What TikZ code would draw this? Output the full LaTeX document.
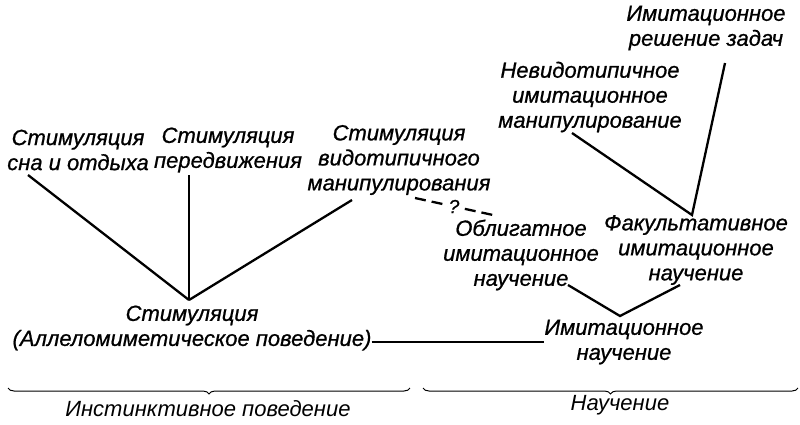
\documentclass[tikz,border=0pt]{standalone}
\usepackage{fontspec}
\setmainfont{Liberation Sans}
\newfontfamily\heavyfont[FakeBold=0.8]{Liberation Sans}
\usetikzlibrary{decorations.pathreplacing}
\begin{document}
\begin{tikzpicture}[x=1pt,y=-1pt,
    lbl/.style={align=center,inner sep=0pt,font=\heavyfont\fontsize{22}{25}\selectfont\itshape},
    low/.style={align=center,inner sep=0pt,font=\fontsize{22}{25}\selectfont\itshape},
    link/.style={line width=2.3pt},
    brc/.style={line width=1pt,decorate,decoration={brace,mirror,amplitude=6pt}}]
    \useasboundingbox (0,0) rectangle (800,424);
    \node[lbl] (sleep) at (78,150) {Стимуляция\\сна и отдыха};
    \node[lbl] (move) at (228,150) {Стимуляция\\передвижения};
    \node[lbl] (manip) at (399,160) {Стимуляция\\видотипичного\\манипулирования};
    \node[lbl] (stim) at (192,328) {Стимуляция\\(Аллеломиметическое поведение)};
    \node[lbl] (imit) at (624,342) {Имитационное\\научение};
    \node[lbl] (oblig) at (521,255) {Облигатное\\имитационное\\научение};
    \node[lbl] (facult) at (696,250) {Факультативное\\имитационное\\научение};
    \node[lbl] (nonspec) at (590,97) {Невидотипичное\\имитационное\\манипулирование};
    \node[lbl] (solve) at (706,28) {Имитационное\\решение задач};
    \node[low] (instinct) at (208,409) {Инстинктивное поведение};
    \node[low] (learn) at (620,405) {Научение};
    \coordinate (stimtop) at (189,300);
    \coordinate (imittop) at (620,316);
    \coordinate (factop) at (692,215);
    \draw[link] ([shift={(-50,25)}]sleep.center) -- (stimtop);
    \draw[link] ([shift={(-39,25)}]move.center) -- (stimtop);
    \draw[link] ([shift={(-47,40)}]manip.center) -- (stimtop);
    \draw[line width=1.5pt] ([yshift=-14pt]stim.east) -- (imit.west);
    \draw[link] ([shift={(47,30)}]oblig.center) -- (imittop) -- ([shift={(-16,35)}]facult.center);
    \draw[link] ([shift={(-18,36)}]nonspec.center) -- (factop) -- ([shift={(19,35)}]solve.center);
    \draw[link,dash pattern=on 11pt off 6pt] ([shift={(16,38)}]manip.center) -- node[fill=white,inner sep=1pt,font=\heavyfont\fontsize{19}{20}\selectfont\itshape] {?} ([shift={(-28,-40)}]oblig.center);
    \coordinate (b1) at (8,388);
    \coordinate (b2) at (410,388);
    \coordinate (b3) at (423,388);
    \coordinate (b4) at (798,388);
    \draw[brc] (b1) -- (b2);
    \draw[brc] (b3) -- (b4);
\end{tikzpicture}
\end{document}
